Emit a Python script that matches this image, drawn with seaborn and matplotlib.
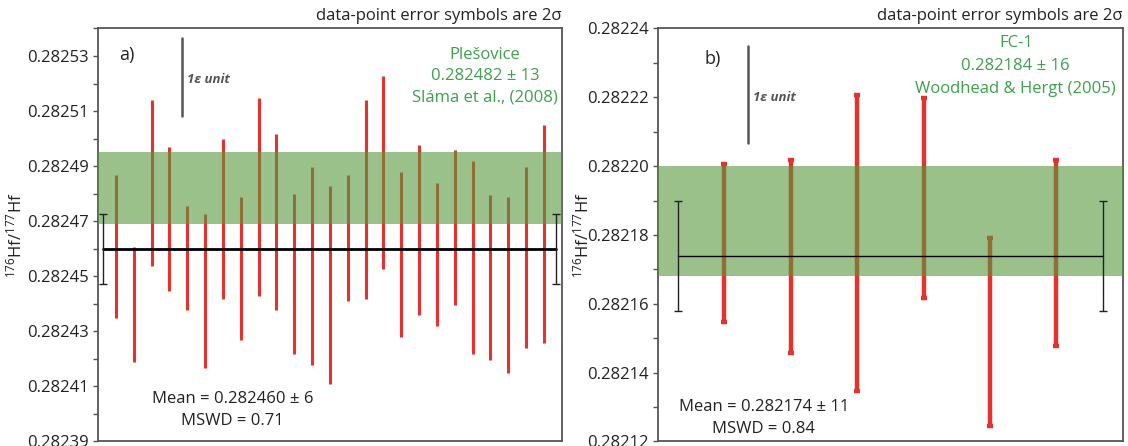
import numpy as np
import pandas as pd
import matplotlib
matplotlib.use("Agg")
import matplotlib.pyplot as plt
from matplotlib.ticker import FixedLocator, FormatStrFormatter
import seaborn as sns

# ---- Plešovice zircon: 176Hf/177Hf analyses (value, 2σ) ----
ples_ratio = [0.2824608, 0.2824396, 0.2824839, 0.2824708, 0.2824567,
              0.2824448, 0.2824707, 0.2824527, 0.2824788, 0.2824698,
              0.2824508, 0.2824537, 0.2824468, 0.2824639, 0.2824778,
              0.2824877, 0.2824578, 0.2824668, 0.2824578, 0.2824677,
              0.2824568, 0.2824497, 0.2824468, 0.2824567, 0.2824654]
ples_err2s = [0.0000261, 0.0000209, 0.0000300, 0.0000260, 0.0000189,
              0.0000280, 0.0000290, 0.0000260, 0.0000361, 0.0000320,
              0.0000290, 0.0000359, 0.0000359, 0.0000230, 0.0000362,
              0.0000350, 0.0000300, 0.0000310, 0.0000260, 0.0000280,
              0.0000350, 0.0000300, 0.0000319, 0.0000329, 0.0000395]
ples_mean, ples_mean_err = 0.282460, 0.0000128
ples_ref, ples_ref_err = 0.282482, 0.000013
ples_ticks = [0.28239, 0.28241, 0.28243, 0.28245, 0.28247, 0.28249,
              0.28251, 0.28253]

# ---- FC-1 zircon ----
fc1_ratio = [0.2821777, 0.2821737, 0.2821777, 0.2821907, 0.2821518, 0.2821747]
fc1_err2s = [0.0000230, 0.0000280, 0.0000431, 0.0000291, 0.0000272, 0.0000270]
fc1_mean, fc1_mean_err = 0.282174, 0.000016
fc1_ref, fc1_ref_err = 0.282184, 0.000016
fc1_ticks = [0.28212, 0.28214, 0.28216, 0.28218, 0.28220, 0.28222, 0.28224]

sns.set_theme(style="white")
plt.rcParams["font.family"] = ["Open Sans", "DejaVu Sans"]
plt.rcParams["mathtext.fontset"] = "custom"
plt.rcParams["mathtext.rm"] = "Open Sans"
plt.rcParams["mathtext.it"] = "Open Sans:italic"

RED = "#e6322d"
BAND = "#58983e"
GREEN_TXT = "#3ea04c"
GREY = "#555555"

fig = plt.figure(figsize=(11.28, 4.46), dpi=100)
ax_a = fig.add_axes([0.0869, 0.0101, 0.4111, 0.926])
ax_b = fig.add_axes([0.5833, 0.0101, 0.4120, 0.926])


def panel(ax, ratio, err, mean, mean_err, ref, ref_err, ticks, ylim, thick,
          mean_lw, ref_lines, tag, mean_lines, eps_top, eps_xy, tag_xy,
          ref_xy, mean_xy, ylab_x, ref_ls):
    df = pd.DataFrame({"spot": np.arange(1, len(ratio) + 1),
                       "ratio": ratio, "err": err})
    n = len(df)
    if thick:
        ax.errorbar(df["spot"], df["ratio"], yerr=df["err"], fmt="none",
                    ecolor=RED, elinewidth=3.2, capsize=2.2, capthick=3.2,
                    zorder=2)
    else:
        ax.vlines(df["spot"], df["ratio"] - df["err"], df["ratio"] + df["err"],
                  color=RED, lw=2.2, zorder=2)
    # reference value band
    ax.axhspan(ref - ref_err, ref + ref_err, color=BAND, alpha=0.6, lw=0,
               zorder=3)
    # weighted mean with its uncertainty at both ends
    ax.plot([0.3, n + 0.7], [mean, mean], color="black", lw=mean_lw, zorder=4)
    ax.errorbar([0.3, n + 0.7], [mean, mean], yerr=mean_err, fmt="none",
                ecolor="#222222", elinewidth=1, capsize=3, capthick=1,
                zorder=4)
    # 1 epsilon unit scale bar
    eps = mean * 1e-4
    ax.plot([eps_xy[0], eps_xy[0]], [eps_top - eps, eps_top], color=GREY,
            lw=1.8, zorder=5)
    ax.text(eps_xy[0] + eps_xy[1], eps_top - eps * 0.53, "1ε unit",
            color=GREY, fontsize=9.5, fontweight="bold", style="italic",
            ha="left", va="center")
    ax.text(tag_xy[0], tag_xy[1], tag, transform=ax.transAxes, fontsize=13,
            ha="left", va="center", color="#222222")
    ax.text(ref_xy[0], ref_xy[1], "\n".join(ref_lines), transform=ax.transAxes,
            ha="center", va="top", color=GREEN_TXT, fontsize=12,
            linespacing=ref_ls)
    ax.text(mean_xy[0], mean_xy[1], "\n".join(mean_lines),
            transform=ax.transAxes, ha="center", va="top", color="#222222",
            fontsize=12, linespacing=1.5)
    ax.text(1.0, 1.012, "data-point error symbols are 2σ",
            transform=ax.transAxes, ha="right", va="bottom", fontsize=12,
            color="#222222")

    ax.set_xlim(0, n + 1)
    ax.set_ylim(*ylim)
    ax.set_xticks([])
    ax.yaxis.set_major_locator(FixedLocator(ticks))
    minor = [t + 0.00001 for t in ticks]
    ax.yaxis.set_minor_locator(FixedLocator(minor))
    ax.yaxis.set_major_formatter(FormatStrFormatter("%.5f"))
    ax.tick_params(axis="y", which="both", left=True, length=3.5, width=1,
                   color=GREY, labelsize=12, labelcolor="#222222", pad=3)
    ax.set_ylabel("$^{176}$Hf/$^{177}$Hf", fontsize=12, color="#222222")
    ax.yaxis.set_label_coords(ylab_x, 0.5)
    for s in ax.spines.values():
        s.set_color(GREY)
        s.set_linewidth(1.3)


panel(ax_a, ples_ratio, ples_err2s, ples_mean, ples_mean_err, ples_ref,
      ples_ref_err, ples_ticks, (0.28239, 0.28254), False, 2.0,
      ["Plešovice", "0.282482 ± 13", "Sláma et al., (2008)"], "a)",
      ["Mean = 0.282460 ± 6", "MSWD = 0.71"],
      0.2825365, (4.7, 0.3), (0.045, 0.935), (0.835, 0.955), (0.29, 0.122),
      -0.157, 1.45)

panel(ax_b, fc1_ratio, fc1_err2s, fc1_mean, fc1_mean_err, fc1_ref,
      fc1_ref_err, fc1_ticks, (0.28212, 0.28224), True, 1.0,
      ["FC-1", "0.282184 ± 16", "Woodhead & Hergt (2005)"], "b)",
      ["Mean = 0.282174 ± 11", "MSWD = 0.84"],
      0.2822349, (1.35, 0.08), (0.1, 0.925), (0.77, 0.985), (0.228, 0.103),
      -0.142, 1.58)

fig.savefig("out.png", dpi=100)
